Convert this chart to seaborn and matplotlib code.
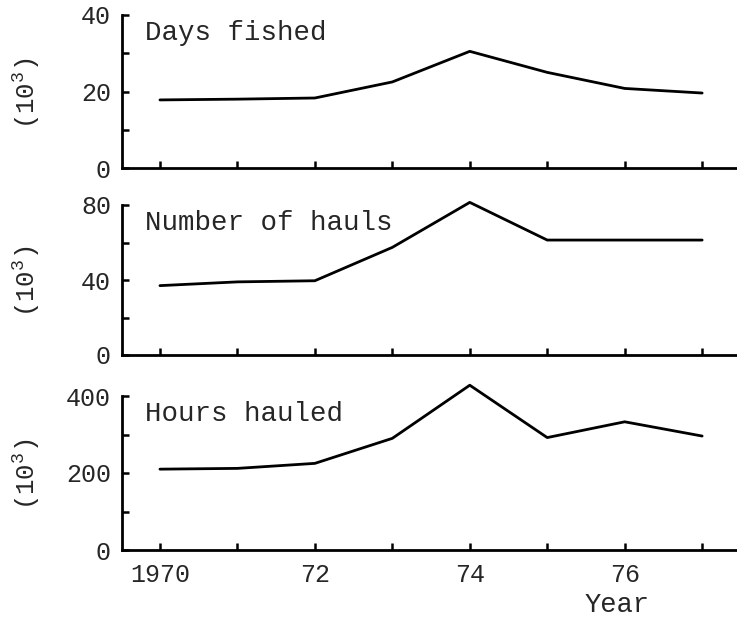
import matplotlib
matplotlib.use("Agg")
import matplotlib.pyplot as plt
import seaborn as sns
import pandas as pd

# Annual fishing effort, thousands
years = [1970, 1971, 1972, 1973, 1974, 1975, 1976, 1977]
days_fished = [17.8, 18.0, 18.3, 22.5, 30.5, 25.0, 20.8, 19.6]
number_of_hauls = [37.0, 39.0, 39.6, 57.4, 81.4, 61.3, 61.3, 61.3]
hours_hauled = [210, 212, 225, 290, 428, 292, 333, 296]

panel_titles = ["Days fished", "Number of hauls", "Hours hauled"]
panel_series = [days_fished, number_of_hauls, hours_hauled]
panel_ymax = [40, 80, 400]
year_labels = {1970: "1970", 1972: "72", 1974: "74", 1976: "76"}

sns.set_style("white")
plt.rcParams["font.family"] = ["Liberation Mono", "DejaVu Sans Mono"]
plt.rcParams["mathtext.fontset"] = "custom"
plt.rcParams["mathtext.rm"] = "Liberation Mono"
plt.rcParams["mathtext.it"] = "Liberation Mono"
plt.rcParams["xtick.direction"] = "in"
plt.rcParams["ytick.direction"] = "in"
plt.rcParams["xtick.bottom"] = True
plt.rcParams["ytick.left"] = True

W, H = 737, 618
fig = plt.figure(figsize=(W / 100, H / 100), dpi=100)

# panel extents in pixels: (top, bottom)
panel_px = [(15, 168), (205, 355), (396, 550)]
left_px, right_px = 122, 737

for (top, bot), title, values, ymax in zip(panel_px, panel_titles, panel_series, panel_ymax):
    ax = fig.add_axes([left_px / W, 1 - bot / H, (right_px - left_px) / W, (bot - top) / H])
    df = pd.DataFrame({"year": years, "value": values})
    sns.lineplot(data=df, x="year", y="value", ax=ax, color="black", linewidth=2.0)
    for ln in ax.lines:
        ln.set_clip_on(False)
    ax.set_xlim(1969.51, 1977.45)
    ax.set_ylim(0, ymax)
    ax.set_xticks(years)
    ax.set_xticklabels([year_labels.get(y, "") if top == 396 else "" for y in years])
    ax.set_yticks([0, ymax / 2, ymax])
    ax.set_yticklabels(["0", f"{int(ymax / 2)}", f"{int(ymax)}"])
    ax.set_yticks([ymax / 4, 3 * ymax / 4], minor=True)
    ax.tick_params(axis="both", which="both", direction="in", length=5, width=1.8,
                   color="black", labelsize=18, bottom=True, left=True)
    ax.tick_params(axis="x", pad=9)
    ax.tick_params(axis="y", pad=8)
    for side in ("top", "right"):
        ax.spines[side].set_visible(False)
    for side in ("left", "bottom"):
        ax.spines[side].set_linewidth(2.0)
        ax.spines[side].set_color("black")
    ax.set_xlabel("")
    ax.set_ylabel(r"(10$^{3}$)", fontsize=18.5)
    ax.yaxis.set_label_coords(-0.13, 0.49)
    ax.text(0.038, 0.88, title, transform=ax.transAxes, fontsize=19.8,
            ha="left", va="center")
    ax.patch.set_alpha(0)

fig.text(585 / W, 1 - 605 / H, "Year", fontsize=19.5, ha="left", va="center")

fig.savefig("out.png", dpi=100)
